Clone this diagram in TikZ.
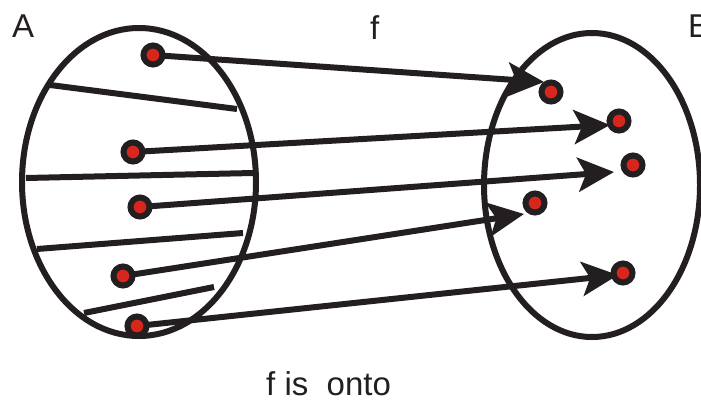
\documentclass[tikz,border=0pt]{standalone}
\usepackage{fontspec}
\setmainfont{Liberation Sans}
\usetikzlibrary{arrows.meta}
\definecolor{ink}{HTML}{231F20}
\definecolor{dotred}{HTML}{D9261C}
\tikzset{
  dotnode/.style={circle, draw=ink, fill=dotred, line width=6pt, minimum size=19pt, inner sep=0pt},
  setline/.style={draw=ink, line width=6pt},
  chord/.style={draw=ink, line width=6pt},
  maparrow/.style={draw=ink, line width=6pt, -{Stealth[length=36pt, width=34pt, inset=8pt]}},
  lbl/.style={inner sep=0pt, anchor=base west, text=ink, font=\fontsize{33}{40}\selectfont}
}
\begin{document}
\begin{tikzpicture}[x=1pt, y=-1pt]
\useasboundingbox (0,0) rectangle (701,407);
\clip (0,0) rectangle (701,407);
% sets
\draw[setline] (139,182) ellipse [x radius=117, y radius=154];
\draw[setline] (592,185) ellipse [x radius=108, y radius=152];
% chords in A
\draw[chord] (50,85) -- (237,109);
\draw[chord] (26,178) -- (253,173);
\draw[chord] (37,249) -- (243,233);
\draw[chord] (84,313) -- (214,287);
% arrow tips
\coordinate (t1) at (544,82);
\coordinate (t2) at (610,125);
\coordinate (t3) at (614,172);
\coordinate (t4) at (524,214);
\coordinate (t5) at (618,275);
% dot coordinates
\coordinate (pa1) at (153,55);
\coordinate (pa2) at (133,152);
\coordinate (pa3) at (140,207);
\coordinate (pa4) at (123,276);
\coordinate (pa5) at (137,326);
% arrows
\draw[maparrow] (pa1) -- (t1);
\draw[maparrow] (pa2) -- (t2);
\draw[maparrow] (pa3) -- (t3);
\draw[maparrow] (pa4) -- (t4);
\draw[maparrow] (pa5) -- (t5);
% dots
\node[dotnode] (a1) at (pa1) {};
\node[dotnode] (a2) at (pa2) {};
\node[dotnode] (a3) at (pa3) {};
\node[dotnode] (a4) at (pa4) {};
\node[dotnode] (a5) at (pa5) {};
\node[dotnode] (b1) at (551,92) {};
\node[dotnode] (b2) at (619,121) {};
\node[dotnode] (b3) at (633,165) {};
\node[dotnode] (b4) at (535,203) {};
\node[dotnode] (b5) at (623,273) {};
% labels
\node[lbl] (lA) at (12,37) {A};
\node[lbl] (lf) at (370,39) {f};
\node[lbl] (lB) at (688,37) {B};
\node[lbl] (lonto) at (266,395) {f is\ \ onto};
\end{tikzpicture}
\end{document}
